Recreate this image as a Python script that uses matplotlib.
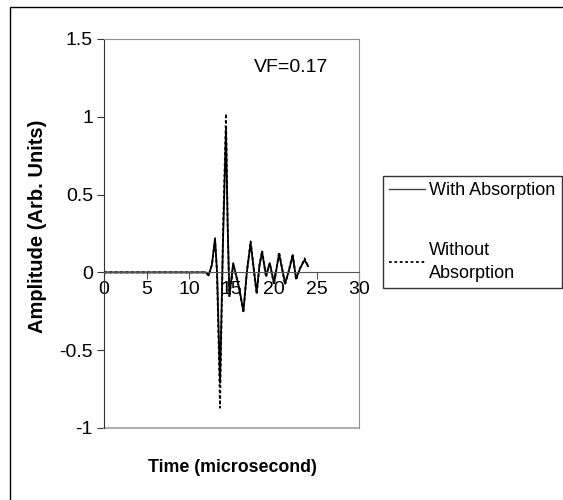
import matplotlib
matplotlib.use("Agg")
import matplotlib.pyplot as plt
from matplotlib.patches import Rectangle

plt.rcParams["font.family"] = ["Liberation Sans", "DejaVu Sans"]

# Data
time = [0, 11.5, 12.0, 12.3, 12.7, 13.06, 13.3, 13.65, 14.0, 14.35, 14.55, 14.75,
        15.2, 15.9, 16.4, 16.8, 17.25, 17.6, 17.96, 18.3, 18.6, 19.06, 19.5, 20.0,
        20.6, 21.3, 21.7, 22.2, 22.6, 23.1, 23.6, 24.0]
with_abs = [0, 0, 0, -0.02, 0.05, 0.22, 0.0, -0.71, 0.2, 0.92, 0.3, -0.15,
            0.06, -0.1, -0.25, 0.0, 0.19, 0.03, -0.13, 0.05, 0.13, -0.02, 0.06, -0.07,
            0.12, -0.07, 0.0, 0.11, -0.04, 0.03, 0.08, 0.04]
without_abs = [0, 0, 0, -0.02, 0.05, 0.21, 0.0, -0.87, 0.25, 1.02, 0.3, -0.16,
               0.05, -0.1, -0.26, 0.0, 0.2, 0.03, -0.14, 0.05, 0.14, -0.03, 0.06, -0.08,
               0.13, -0.08, 0.0, 0.12, -0.05, 0.03, 0.09, 0.04]
xticks = [0, 5, 10, 15, 20, 25, 30]
yticks = [-1, -0.5, 0, 0.5, 1, 1.5]
ytick_labels = ["-1", "-0.5", "0", "0.5", "1", "1.5"]

W, H = 563, 500
fig = plt.figure(figsize=(W / 100, H / 100), dpi=100)
ax = fig.add_axes([104 / W, 1 - 428 / H, 255 / W, 389 / H])

# outer chart border
fig.patches.append(Rectangle((10 / W, -0.1), 1.5, 1.1 - 7 / H, transform=fig.transFigure,
                             fill=False, edgecolor="black", linewidth=1))

l1, = ax.plot(time, with_abs, color="black", linewidth=1.3, label="With Absorption")
l2, = ax.plot(time, without_abs, color="black", linewidth=1.3, linestyle=(0, (1.5, 1.5)),
              label="Without\nAbsorption")

ax.set_xlim(0, 30)
ax.set_ylim(-1, 1.5)
ax.set_xticks(xticks)
ax.set_yticks(yticks)
ax.set_yticklabels(ytick_labels)

ax.spines["bottom"].set_position(("data", 0))
ax.spines["bottom"].set_color("#555555")
ax.spines["left"].set_color("#333333")
ax.spines["top"].set_color("#909090")
ax.spines["right"].set_color("#909090")
ax.axhline(-1, color="#b0b0b0", linewidth=1.5, clip_on=False)

ax.tick_params(axis="x", direction="out", length=5, color="#555555", labelsize=14, pad=1)
ax.tick_params(axis="y", direction="out", length=5, color="#333333", labelsize=14, pad=3)

ax.text(26.4, 1.32, "VF=0.17", fontsize=14, ha="right", va="center")

fig.text(232 / W, 1 - 467 / H, "Time (microsecond)", fontsize=12.8, fontweight="bold",
         ha="center", va="center")
fig.text(38 / W, 1 - 226 / H, "Amplitude (Arb. Units)", fontsize=14.5, fontweight="bold",
         ha="center", va="center", rotation=90)

leg = fig.legend(handles=[l1, l2], loc="lower left", bbox_to_anchor=(383 / W, 1 - 288 / H),
                 frameon=True, fancybox=False, fontsize=13, handlelength=2.0,
                 handletextpad=0.2, labelspacing=2.35, borderaxespad=0, borderpad=0.35)
leg.get_frame().set_edgecolor("black")
leg.get_frame().set_linewidth(1)
leg.get_lines()[0].set_color("#444444")
leg.get_lines()[0].set_linewidth(1)
leg.get_texts()[1].set_linespacing(1.45)

fig.savefig("out.png", dpi=100)
